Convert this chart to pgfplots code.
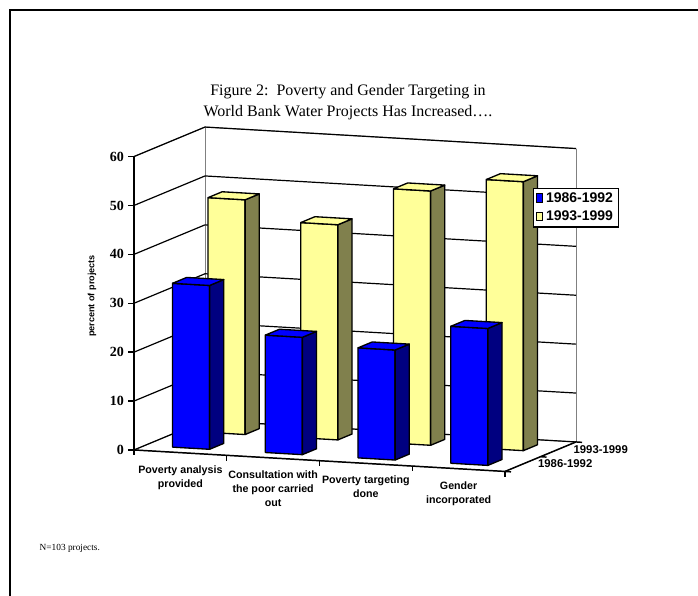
\documentclass[border=0pt]{standalone}
\usepackage{pgfplots}
\pgfplotsset{compat=1.18}
\usepackage{pgfplotstable}
\usepackage{fontspec}
\setmainfont{Liberation Serif}
\newfontfamily\arial{Liberation Sans}

\definecolor{barblue}{RGB}{0,0,255}
\definecolor{barnavy}{RGB}{0,0,128}
\definecolor{baryel}{RGB}{255,255,153}
\definecolor{barolive}{RGB}{128,128,77}

% percent of projects
\pgfplotstableread{
idx old new
0 33.5 48
1 24 44
2 22.5 52
3 28 55
}\projdata

\pgfplotsset{barface/.style={draw=black, line width=1pt, line join=round, forget plot, mark=none}}

\newcommand{\drawbar}[5]{%
 \pgfmathsetmacro\xa{#1-0.2}%
 \pgfmathsetmacro\xb{#1+0.2}%
 \pgfmathsetmacro\ya{#2-0.2}%
 \pgfmathsetmacro\yb{#2+0.2}%
 \edef\hh{#3}%
 \addplot3[barface, fill=#4] coordinates {(\xa,\ya,0) (\xb,\ya,0) (\xb,\ya,\hh) (\xa,\ya,\hh) (\xa,\ya,0)};
 \addplot3[barface, fill=#5] coordinates {(\xb,\ya,0) (\xb,\yb,0) (\xb,\yb,\hh) (\xb,\ya,\hh) (\xb,\ya,0)};
 \addplot3[barface, fill=#4] coordinates {(\xa,\ya,\hh) (\xb,\ya,\hh) (\xb,\yb,\hh) (\xa,\yb,\hh) (\xa,\ya,\hh)};
}

\begin{document}
\begin{tikzpicture}[x=0.75pt,y=0.75pt]
\useasboundingbox (0,0) rectangle (698,595);
\draw[line width=1.5pt] (9.5,-20) -- (9.5,584.5) -- (720,584.5);
\node[font=\fontsize{12}{15.75}\selectfont, align=center] at (348,493) {Figure 2:\ \ Poverty and Gender Targeting in\\World Bank Water Projects Has Increased\dots.};
\node[font=\fontsize{7}{8}\selectfont, anchor=west] at (35,47) {N=103 projects.};
\node[font=\arial\bfseries\fontsize{6.8}{8}\selectfont, rotate=90] at (92,299) {percent of projects};

\begin{axis}[
 at={(148.6pt,112.3pt)}, anchor=origin,
 x={(69.5625pt,-4.03pt)}, y={(26.625pt,11.0625pt)}, z={(0pt,3.6675pt)},
 xmin=-0.5, xmax=3.5, ymin=-0.5, ymax=1.5, zmin=0, zmax=60,
 clip=false,
 axis line style={draw=black!50, line width=0.75pt},
 ztick={0,10,...,60},
 zmajorgrids, xmajorgrids=false, ymajorgrids=false,
 grid style={black, line width=0.9pt},
 tick pos=left,
 major tick length=0pt, minor tick length=0pt,
 xtick={0,1,2,3},
 xticklabels={{Poverty analysis\\provided},{Consultation with\\the poor carried\\out},{Poverty targeting\\done},{Gender\\incorporated}},
 ytick={0,1},
 yticklabels={1986-1992,1993-1999},
 /pgf/number format/assume math mode=true,
 z tick label style={font=\bfseries\fontsize{10.5}{12}\selectfont, anchor=east, xshift=-4pt},
 x tick label style={font=\arial\bfseries\fontsize{8}{10.5}\selectfont, align=center, anchor=north, yshift=-6pt},
 y tick label style={font=\arial\bfseries\fontsize{8.5}{10}\selectfont, anchor=west, xshift=8pt},
]
\pgfplotsforeachungrouped \i in {0,1,2,3}{%
  \pgfplotstablegetelem{\i}{new}\of\projdata
  \let\val\pgfplotsretval
  \drawbar{\i}{1}{\val}{baryel}{barolive}
}
\pgfplotsforeachungrouped \i in {0,1,2,3}{%
  \pgfplotstablegetelem{\i}{old}\of\projdata
  \let\val\pgfplotsretval
  \drawbar{\i}{0}{\val}{barblue}{barnavy}
}
\draw[black, line width=1.1pt] (axis cs:-0.5,-0.5,0) -- (axis cs:-0.5,-0.5,60);
\draw[black, line width=1.1pt] (axis cs:-0.5,-0.5,0) -- (axis cs:3.5,-0.5,0) -- (axis cs:3.5,1.5,0);
\pgfplotsinvokeforeach{0,10,20,30,40,50,60}{\draw[black, line width=1.1pt] (axis cs:-0.5,-0.5,#1) -- ++(-4.5pt,0pt);}
\pgfplotsinvokeforeach{-0.5,0.5,1.5,2.5,3.5}{\draw[black, line width=1.1pt] (axis cs:#1,-0.5,0) -- ++(0pt,-4pt);}
\pgfplotsinvokeforeach{-0.5,0.5,1.5}{\draw[black, line width=1.1pt] (axis cs:3.5,#1,0) -- ++(4.5pt,-0.3pt);}
\end{axis}

\begin{axis}[at={(399.75pt,305.25pt)}, anchor=north west, hide axis, scale only axis,
 width=20pt, height=20pt, xmin=0, xmax=1, ymin=0, ymax=1,
 legend style={at={(0,1)}, anchor=north west, draw=black, line width=1pt,
   font=\arial\bfseries\fontsize{10.5}{12}\selectfont, inner xsep=2pt, inner ysep=1pt,
   row sep=1pt, cells={anchor=west}},
 legend image code/.code={\draw[#1, draw=black, line width=0.75pt] (0pt,-3pt) rectangle (4.5pt,3.5pt);}]
\addlegendimage{fill=barblue}
\addlegendentry{1986-1992}
\addlegendimage{fill=baryel}
\addlegendentry{1993-1999}
\end{axis}
\end{tikzpicture}
\end{document}
